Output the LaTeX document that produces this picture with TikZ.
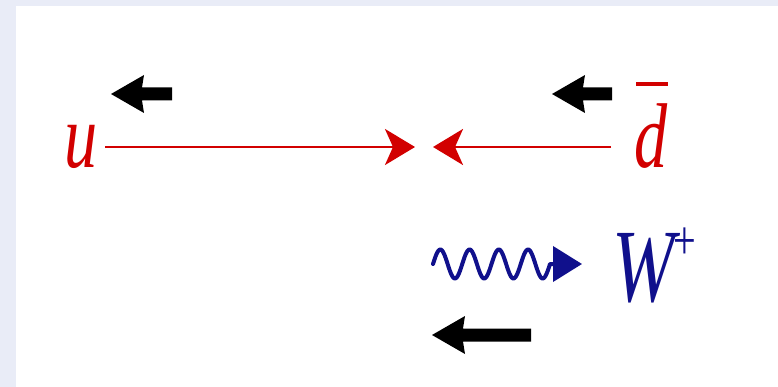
\documentclass[tikz,border=0pt]{standalone}
\usepackage{fontspec}
\usepackage{graphicx}
\setmainfont{Liberation Serif}
\usetikzlibrary{arrows.meta}
\definecolor{quarkred}{RGB}{210,0,0}
\definecolor{bosonblue}{RGB}{16,16,140}
\definecolor{slidebg}{RGB}{233,236,247}
% condensed italic letters for the particle labels
\newcommand{\narrowlbl}[1]{\scalebox{0.72}[1]{#1}}

\begin{document}
\begin{tikzpicture}[x=1pt,y=-1pt,
  particle/.style={inner sep=0pt, outer sep=0pt, anchor=base west},
  quark/.style={draw=quarkred, line width=2.6pt,
    -{Stealth[length=30pt,width=36pt,inset=8pt,fill=quarkred]}},
  boson/.style={draw=bosonblue, line width=4pt, line join=round, line cap=round,
    -{Triangle[length=29pt,width=35pt,fill=bosonblue]}},
  % thick spin arrow pointing left; the argument is its total length
  pics/spin/.style={code={
    \fill[black] (0,0) -- (33,-19) -- (31,-6.5) -- (#1,-6.5)
      -- (#1,6.5) -- (31,6.5) -- (33,19) -- cycle;
  }}
]
\useasboundingbox (0,0) rectangle (778,387);
\fill[slidebg] (0,0) rectangle (778,387);
\fill[white] (16,6) rectangle (778,387);

% particle labels
\node[particle, text=quarkred] (u) at (64,168)
  {\narrowlbl{\fontsize{92}{92}\selectfont\itshape u}};
\node[particle, text=quarkred] (dbar) at (634,168)
  {\narrowlbl{\fontsize{92}{92}\selectfont\itshape
   \rlap{\hspace{2.8pt}\raisebox{82pt}{\rule{44pt}{4pt}}}d}};
\node[particle, text=bosonblue] (W) at (612,301)
  {\narrowlbl{\fontsize{104}{104}\selectfont\itshape W\kern-1pt
   \raisebox{42pt}{\fontsize{56}{56}\selectfont\upshape +}}};

% incoming quark lines meeting at the centre
\coordinate (inL) at (415,147);
\coordinate (inR) at (433,147);
\draw[quark] (u.east |- inL) ++(8,0) -- (inL);
\draw[quark] (dbar.west |- inR) ++(-23,0) -- (inR);

% outgoing W boson: four wave periods, then the arrow head
\coordinate (wL) at (433,264);
\coordinate (wR) at (582,264);
\draw[boson] plot[domain=0:117, samples=160, smooth]
  ({433+\x},{264-14.5*sin(\x/29.25*360)}) -- (wR);

% spin directions
\pic at (111,94) {spin=61};
\pic at (552,94) {spin=60};
\pic at (432,335) {spin=99};
\end{tikzpicture}
\end{document}
